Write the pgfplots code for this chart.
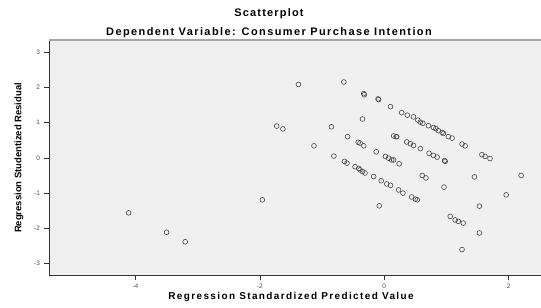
\documentclass[border=0pt]{standalone}
\usepackage{fontspec}
\setmainfont{Liberation Sans}
\usepackage{pgfplots}
\pgfplotsset{compat=1.18}
\definecolor{bgc}{HTML}{F0F0F0}
\definecolor{ptc}{HTML}{484848}
\begin{document}
\begin{tikzpicture}[x=1bp,y=1bp]
\path[use as bounding box] (0,0) rectangle (541,307);
\begin{axis}[
  at={(49bp,31.7bp)}, anchor=south west,
  scale only axis, width=492bp, height=235.3bp,
  xmin=-5.39, xmax=2.52, ymin=-3.33, ymax=3.34,
  axis background/.style={fill=bgc},
  axis x line*=bottom, axis y line*=left,
  axis line style={black!80, line width=0.8pt, -},
  xtick={-4,-2,0,2}, ytick={-3,-2,-1,0,1,2,3},
  tick align=outside, major tick length=5bp,
  tick style={black!80, line width=0.6pt},
  /pgf/number format/assume math mode=true,
  ticklabel style={font=\fontsize{6.5}{6.5}\selectfont, text=black!70},
  xticklabel style={yshift=-0.5bp},
  yticklabel style={xshift=-0.5bp},
  clip=false,
]
\addplot[only marks, mark=o, mark size=2.4bp, mark options={draw=ptc, line width=0.6pt}] coordinates {
(-4.11,-1.56) (-3.50,-2.11) (-3.20,-2.38) (-1.96,-1.19) (-1.73,0.90) (-1.63,0.82)
(-1.38,2.08) (-1.13,0.34) (-0.85,0.88) (-0.81,0.05) (-0.65,2.15) (-0.64,-0.10)
(-0.60,-0.15) (-0.59,0.60) (-0.47,-0.25) (-0.42,0.44) (-0.41,-0.30) (-0.39,0.42)
(-0.39,-0.34) (-0.35,1.10) (-0.35,-0.39) (-0.33,1.82) (-0.32,1.79) (-0.33,0.34)
(-0.31,-0.43) (-0.17,-0.53) (-0.13,0.17) (-0.10,1.67) (-0.09,1.65) (-0.08,-1.36)
(-0.05,-0.65) (0.02,0.04) (0.04,-0.74) (0.07,-0.01) (0.10,1.45) (0.10,-0.78)
(0.12,-0.06) (0.15,-0.06) (0.15,0.62) (0.19,0.60) (0.20,0.60) (0.23,-0.91)
(0.24,-0.17) (0.28,1.28) (0.30,-1.00) (0.36,0.45) (0.37,1.21) (0.42,0.40)
(0.44,-1.11) (0.47,1.16) (0.47,0.35) (0.50,-1.17) (0.53,-1.19) (0.54,1.07)
(0.58,1.01) (0.58,0.26) (0.61,-0.50) (0.62,0.98) (0.67,-0.57) (0.71,0.91)
(0.72,0.13) (0.79,0.86) (0.79,0.07) (0.83,0.83) (0.85,0.02) (0.87,0.77)
(0.93,0.72) (0.95,0.69) (0.96,-0.83) (0.97,-0.08) (0.98,-0.10) (1.03,0.60)
(1.06,-1.66) (1.09,0.56) (1.14,-1.76) (1.19,-1.80) (1.25,0.39) (1.25,-2.60)
(1.27,-1.85) (1.30,0.34) (1.45,-0.54) (1.53,-1.37) (1.53,-2.13) (1.57,0.09)
(1.62,0.04) (1.70,-0.02) (1.96,-1.05) (2.20,-0.50)
};
\draw[black!35, line width=1.6pt] (rel axis cs:0,1) -- (rel axis cs:1,1);
\end{axis}
\node[font=\fontsize{11}{11}\selectfont\bfseries\addfontfeatures{LetterSpace=11}] at (269,293) {Scatterplot};
\node[font=\fontsize{11}{11}\selectfont\bfseries\addfontfeatures{LetterSpace=13}] at (269,274.3) {Dependent Variable: Consumer Purchase Intention};
\node[font=\fontsize{10}{10}\selectfont\bfseries\addfontfeatures{LetterSpace=14}] at (291,10) {Regression Standardized Predicted Value};
\node[rotate=90, font=\fontsize{9.5}{9.5}\selectfont\bfseries] at (19,149) {Regression Studentized Residual};
\end{tikzpicture}
\end{document}
